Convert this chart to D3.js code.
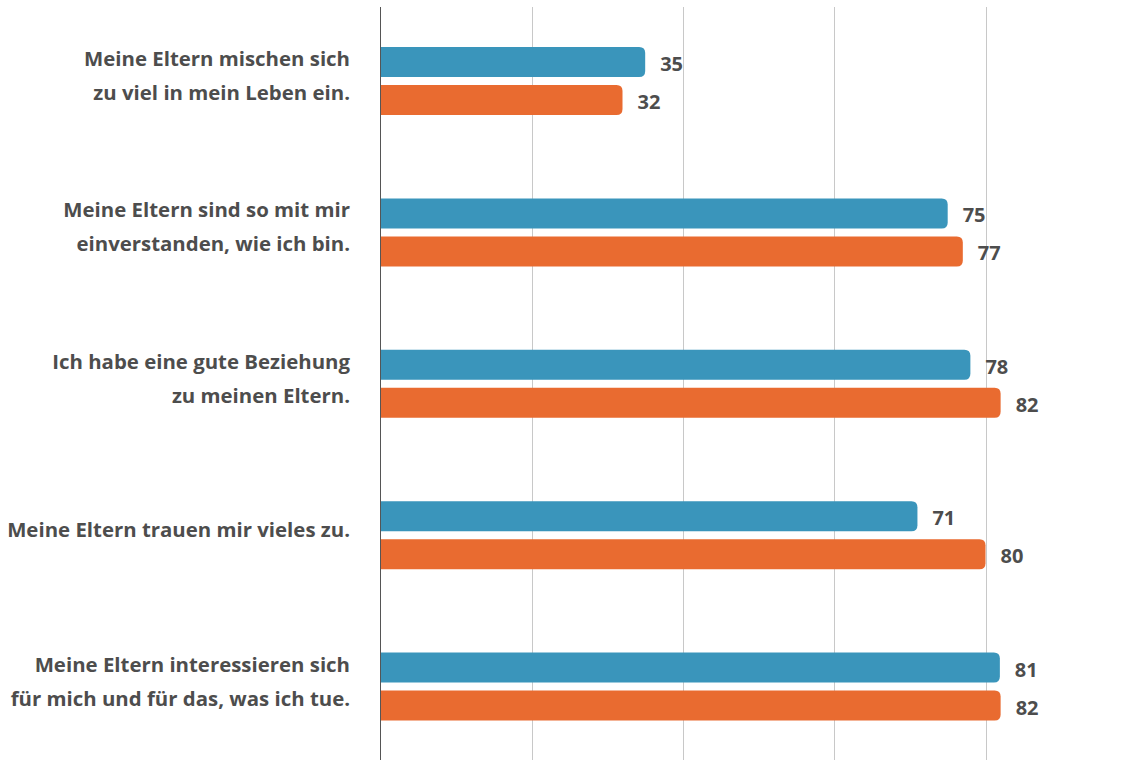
<!DOCTYPE html>
<html><head><meta charset="utf-8">
<script src="https://cdn.jsdelivr.net/npm/d3@7"></script>
<style>body{margin:0;background:#fff}svg{display:block}</style>
</head><body>
<script>
const categories = [
  ["Meine Eltern mischen sich", "zu viel in mein Leben ein."],
  ["Meine Eltern sind so mit mir", "einverstanden, wie ich bin."],
  ["Ich habe eine gute Beziehung", "zu meinen Eltern."],
  ["Meine Eltern trauen mir vieles zu."],
  ["Meine Eltern interessieren sich", "für mich und für das, was ich tue."]
];
const seriesA = [35, 75, 78, 71, 81.9];
const seriesB = [32, 77, 82, 80, 82];
const labelsA = ["35", "75", "78", "71", "81"];
const labelsB = ["32", "77", "82", "80", "82"];
const gridTicks = [20, 40, 60, 80];

const W = 1125, H = 760;
const svg = d3.select("body").append("svg").attr("width", W).attr("height", H);
const x = d3.scaleLinear().domain([0, 80]).range([380.5, 985.5]);
const y = d3.scaleBand().domain(d3.range(categories.length)).range([-1, 756]).paddingInner(0).paddingOuter(0);
const barH = 30, gap = 8;
const font = "'Open Sans', sans-serif";

svg.append("g").selectAll("line").data(gridTicks).join("line")
  .attr("x1", d => Math.round(x(d)) + 0.5).attr("x2", d => Math.round(x(d)) + 0.5)
  .attr("y1", 7).attr("y2", H).attr("stroke", "#c8c8c8").attr("stroke-width", 1);

function rbar(x0, x1, y0, h, r) {
  return `M${x0},${y0}H${x1 - r}Q${x1},${y0} ${x1},${y0 + r}V${y0 + h - r}Q${x1},${y0 + h} ${x1 - r},${y0 + h}H${x0}Z`;
}

const g = svg.append("g");
categories.forEach((c, i) => {
  const top = y(i) + 48;
  const cy = top + barH + gap / 2;
  g.append("path").attr("d", rbar(x(0), x(seriesA[i]), top, barH, 6)).attr("fill", "#3a95bb");
  g.append("path").attr("d", rbar(x(0), x(seriesB[i]), top + barH + gap, barH, 6)).attr("fill", "#e96b30");
  g.append("text").attr("x", x(seriesA[i]) + 15).attr("y", top + barH / 2 + 9)
    .attr("font-family", font).attr("font-weight", 700).attr("font-size", 20).attr("fill", "#4d4d4d").text(labelsA[i]);
  g.append("text").attr("x", x(seriesB[i]) + 15).attr("y", top + barH + gap + barH / 2 + 9)
    .attr("font-family", font).attr("font-weight", 700).attr("font-size", 20).attr("fill", "#4d4d4d").text(labelsB[i]);
  const lh = 34;
  const t = g.append("text").attr("text-anchor", "end").attr("font-family", font)
    .attr("font-weight", 700).attr("font-size", 20.4).attr("fill", "#4d4d4d");
  c.forEach((line, j) => {
    t.append("tspan").attr("x", 350).attr("y", cy + 2 + (j - (c.length - 1) / 2) * lh).text(line);
  });
});

svg.append("line").attr("x1", 380.5).attr("x2", 380.5).attr("y1", 7).attr("y2", H)
  .attr("stroke", "#555").attr("stroke-width", 1);
</script>
</body></html>
